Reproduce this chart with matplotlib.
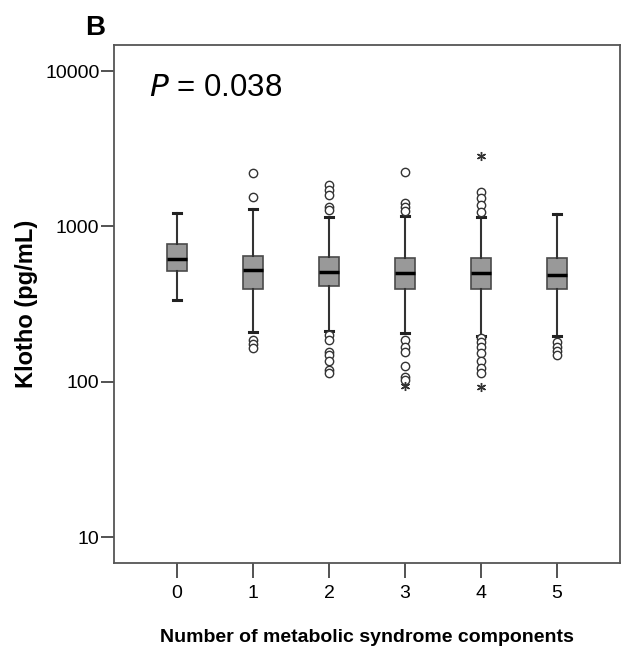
import matplotlib
matplotlib.use("Agg")
import matplotlib.pyplot as plt

# Klotho by number of metabolic syndrome components (box summaries, pg/mL)
groups = ["0", "1", "2", "3", "4", "5"]
whislo = [334, 210, 213, 207, 197, 197]
q1 = [516, 394, 413, 396, 394, 394]
med = [614, 524, 511, 503, 499, 486]
q3 = [770, 645, 638, 623, 623, 623]
whishi = [1214, 1294, 1144, 1167, 1154, 1202]

# outliers (circles) and extremes (stars)
outliers = [
    [],
    [2198, 1553, 185, 176, 164],
    [1849, 1715, 1592, 1340, 1276, 200, 185, 156, 149, 135, 119, 113],
    [2250, 1421, 1340, 1262, 185, 168, 156, 126, 108, 103],
    [1673, 1517, 1374, 1244, 190, 181, 168, 152, 135, 122, 113],
    [181, 168, 158, 149],
]
extremes = [[], [], [], [94], [2853, 93], []]

p_value = "0.038"

sans = ["Liberation Sans", "DejaVu Sans"]

fig = plt.figure(figsize=(6.27, 6.62), dpi=100)
ax = fig.add_axes([0.1818, 0.150, 0.807, 0.782])

stats = []
for i, g in enumerate(groups):
    stats.append(dict(label=g, whislo=whislo[i], q1=q1[i], med=med[i],
                      q3=q3[i], whishi=whishi[i], fliers=[]))

pos = list(range(len(groups)))
ax.bxp(stats, positions=pos, widths=0.26, patch_artist=True,
       showfliers=False,
       boxprops=dict(facecolor="#999999", edgecolor="#4a4a4a", linewidth=1.2),
       medianprops=dict(color="black", linewidth=2.5),
       whiskerprops=dict(color="#333333", linewidth=1.5),
       capprops=dict(color="#222222", linewidth=2.2),
       capwidths=0.1)

for i in pos:
    if outliers[i]:
        ax.plot([i] * len(outliers[i]), outliers[i], linestyle="none",
                marker="o", markersize=6, markerfacecolor="white",
                markeredgecolor="#333333", markeredgewidth=1.0)
    if extremes[i]:
        ax.plot([i] * len(extremes[i]), extremes[i], linestyle="none",
                marker=(6, 2, 0), markersize=6.5, color="#333333",
                markeredgewidth=1.0)

ax.set_yscale("log")
ax.set_ylim(6.84, 14700)
ax.set_xlim(-0.83, 5.83)
ax.set_yticks([10, 100, 1000, 10000])
ax.set_yticklabels(["10", "100", "1000", "10000"])
ax.minorticks_off()
ax.set_xticks(pos)
ax.set_xticklabels(groups)

for lbl in ax.get_xticklabels() + ax.get_yticklabels():
    lbl.set_fontfamily(sans)
    lbl.set_fontsize(14)

ax.tick_params(axis="both", direction="out", width=1.3, color="#444444")
ax.tick_params(axis="x", length=11, pad=5)
ax.tick_params(axis="y", length=9.5, pad=1)
for sp in ax.spines.values():
    sp.set_color("#555555")
    sp.set_linewidth(1.3)

ax.set_xlabel("Number of metabolic syndrome components", fontsize=14,
              fontweight="bold", family=sans)
ax.xaxis.set_label_coords(0.5, -0.128)
ax.set_ylabel("Klotho (pg/mL)", fontsize=17, fontweight="bold",
              family=sans)
ax.yaxis.set_label_coords(-0.150, 0.5)

ax.text(0.069, 0.917, "$\\it{P}$ = " + p_value, transform=ax.transAxes,
        fontsize=22.5, family=sans, va="center", ha="left")

fig.text(0.136, 0.958, "B", fontsize=20, fontweight="bold",
         family=sans, va="center")

fig.savefig("out.png", dpi=100)
